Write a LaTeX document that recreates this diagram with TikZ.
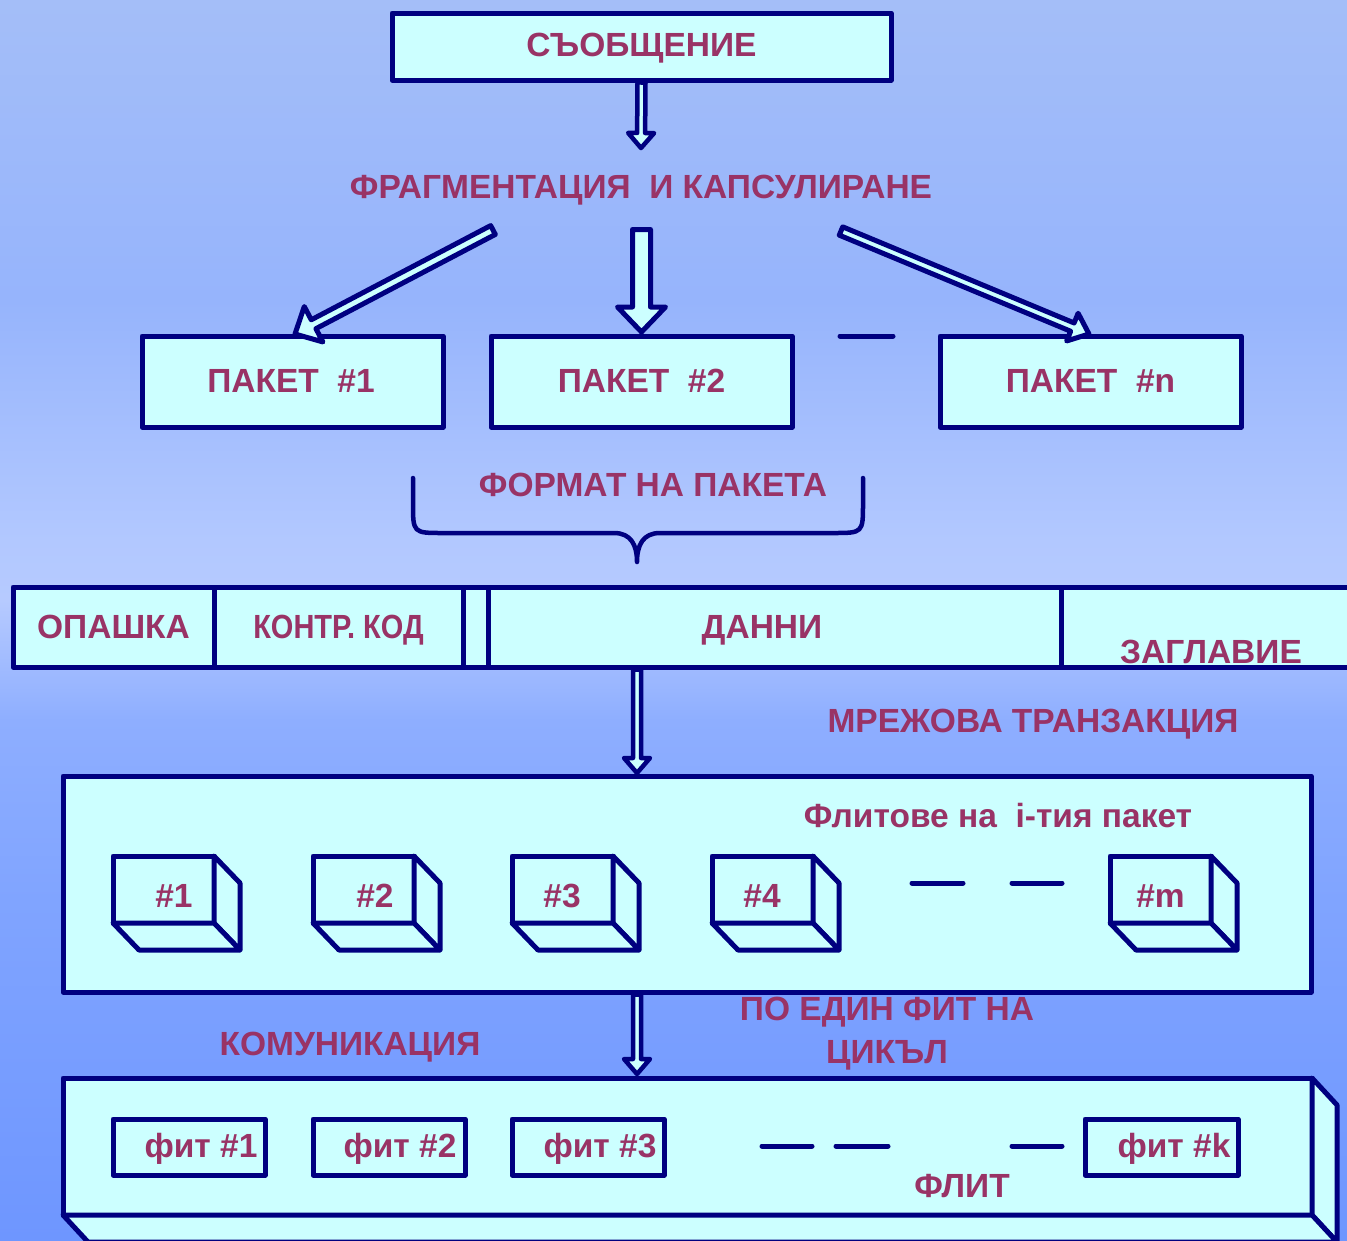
\documentclass[tikz,border=0pt]{standalone}
\usepackage{fontspec}
\usepackage{graphicx}
\setmainfont{Liberation Sans}
\usetikzlibrary{calc}
\definecolor{navyc}{HTML}{000080}
\definecolor{cyanc}{HTML}{CCFFFF}
\definecolor{txtc}{HTML}{993366}
\definecolor{skyA}{HTML}{A4BEF8}
\definecolor{skyB}{HTML}{96B4FC}
\definecolor{skyC}{HTML}{B2C8FF}
\definecolor{skyD}{HTML}{B6CAFF}
\definecolor{skyE}{HTML}{8EAEFF}
\definecolor{skyF}{HTML}{80A4FF}
\definecolor{skyG}{HTML}{6E96FF}
\newcommand\lblfont{\bfseries\fontsize{33.5}{40}\selectfont}
\newcommand\blkarrow[6]{%
  \coordinate (bkneck) at ($#2!#5!#1$);
  \draw[arrowbody,#6] ($#1!#3!90:#2$) -- ($(bkneck)!#3!90:#2$) -- ($(bkneck)!#4!90:#2$) -- #2
    -- ($(bkneck)!#4!-90:#2$) -- ($(bkneck)!#3!-90:#2$) -- ($#1!#3!-90:#2$) -- cycle;}
\begin{document}
\begin{tikzpicture}[x=1pt,y=-1pt,
  box/.style={draw=navyc,fill=cyanc,line width=5pt,line join=round,outer sep=0pt,inner sep=0pt},
  face/.style={draw=navyc,fill=cyanc,line width=5pt,line join=round},
  lbl/.style={text=txtc,font=\lblfont,inner sep=0pt,text height=24pt,text depth=0pt},
  arrowbody/.style={draw=navyc,fill=cyanc,line width=5pt,line join=round},
  dashln/.style={draw=navyc,line width=5pt,line cap=round},
  bracestyle/.style={draw=navyc,line width=4.5pt,line cap=round,line join=round}]
\useasboundingbox (0,0) rectangle (1347,1240);
\clip (0,0) rectangle (1347,1240);
% background sky
\shade[top color=skyA,bottom color=skyB] (0,-1) rectangle (1347,300.5);
\shade[top color=skyB,bottom color=skyC] (0,300) rectangle (1347,540.5);
\shade[top color=skyC,bottom color=skyD] (0,540) rectangle (1347,600.5);
\shade[top color=skyD,bottom color=skyE] (0,600) rectangle (1347,720.5);
\shade[top color=skyE,bottom color=skyF] (0,720) rectangle (1347,900.5);
\shade[top color=skyF,bottom color=skyG] (0,900) rectangle (1347,1241);

% message
\node[box,minimum width=499pt,minimum height=67pt] (msg) at (641.5,46.5) {};
\node[lbl] (msgt) at (641.5,44) {СЪОБЩЕНИЕ};
\coordinate (a1s) at ($(msg.south)+(0,2.5)$);
\coordinate (a1e) at (641,148);
\blkarrow{(a1s)}{(a1e)}{4pt}{13pt}{15pt}{line width=4.5pt}

\node[lbl] (frag) at (641,186) {ФРАГМЕНТАЦИЯ\ \ И КАПСУЛИРАНЕ};

% packets
\node[box,minimum width=301pt,minimum height=91pt] (p1) at (292.5,381.5) {};
\node[box,minimum width=301pt,minimum height=91pt] (p2) at (641.5,381.5) {};
\node[box,minimum width=301pt,minimum height=91pt] (pn) at (1090.5,381.5) {};
\node[lbl] at (291,380) {ПАКЕТ\ \ \#1};
\node[lbl] at (641.5,380) {ПАКЕТ\ \ \#2};
\node[lbl] at (1090.5,380) {ПАКЕТ\ \ \#n};
\draw[dashln] (840,336) -- (893,336);

\coordinate (a2s) at (493,230);
\coordinate (a2e) at (295,334);
\blkarrow{(a2s)}{(a2e)}{5pt}{20pt}{21pt}{}
\coordinate (a3s) at (641.5,229.5);
\coordinate (a3e) at ($(p2.north)+(0,-4)$);
\blkarrow{(a3s)}{(a3e)}{9pt}{24pt}{25pt}{}
\coordinate (a4s) at (841,231);
\coordinate (a4e) at (1089,334);
\blkarrow{(a4s)}{(a4e)}{4.5pt}{15pt}{18pt}{}

% packet format brace
\node[lbl] (fmt) at (653,484) {ФОРМАТ НА ПАКЕТА};
\draw[bracestyle] (413,478) -- (413,503) .. controls (413,533) .. (443,533) -- (614,533)
  .. controls (631,533) and (637,545) .. (637,562)
  .. controls (637,545) and (643,533) .. (660,533) -- (833,533)
  .. controls (863,533) .. (863,503) -- (863,478);

% packet bar
\node[box,minimum width=201pt,minimum height=80pt] (tailseg) at (113.5,627) {};
\node[box,minimum width=249pt,minimum height=80pt] (crcseg) at (338.5,627) {};
\node[box,minimum width=25pt,minimum height=80pt] (gapseg) at (475.5,627) {};
\node[box,minimum width=573pt,minimum height=80pt] (dataseg) at (774.5,627) {};
\node[box,minimum width=319pt,minimum height=80pt] (hdrseg) at (1220.5,627) {};
\node[lbl] at (113.5,626) {ОПАШКА};
\node[lbl] at (338.5,626) {\scalebox{0.865}[1]{КОНТР. КОД}};
\node[lbl] at (762,626) {ДАННИ};
\node[lbl] at (1211,651) {ЗАГЛАВИЕ};

\coordinate (a5s) at ($(dataseg.south west)+(149,2.5)$);
\coordinate (a5e) at (637,773);
\blkarrow{(a5s)}{(a5e)}{4pt}{13pt}{15pt}{line width=4.5pt}
\node[lbl] (net) at (1033,720) {МРЕЖОВА ТРАНЗАКЦИЯ};

% flits of i-th packet
\node[box,minimum width=1248pt,minimum height=216pt] (trans) at (687,884) {};
\node[lbl] (flits) at (998,815) {Флитове на\ \ i-тия пакет};
\foreach \nm/\cx/\tx/\lab in {c1/163.5/174/\#1, c2/363.5/375/\#2, c3/562.5/562/\#3, c4/762.5/762/\#4, cm/1160.5/1160.5/\#m}{
  \node[box,minimum width=101pt,minimum height=67pt] (\nm) at (\cx,889.5) {};
  \draw[face] (\nm.north east) -- ++(26,27) -- ++(0,67) -- (\nm.south east) -- cycle;
  \draw[face] (\nm.south west) -- (\nm.south east) -- ++(26,27) -- ++(-101,0) -- cycle;
  \node[lbl] at (\tx,895) {\lab};
}
\draw[dashln] (912,883) -- (963,883);
\draw[dashln] (1012,883) -- (1062,883);

\coordinate (a6s) at ($(trans.south west)+(574,2.5)$);
\coordinate (a6e) at (637,1074);
\blkarrow{(a6s)}{(a6e)}{4pt}{13pt}{15pt}{line width=4.5pt}
\node[lbl] (cyc) at (887,1008) {ПО ЕДИН ФИТ НА};
\node[lbl] (cyc2) at (887,1051) {ЦИКЪЛ};
\node[lbl] (comm) at (350,1043) {КОМУНИКАЦИЯ};

% flit 3D bar
\node[box,minimum width=1249pt,minimum height=137pt] (flit) at (687.5,1146.5) {};
\draw[face] (flit.north east) -- ++(25,27) -- ++(0,137) -- (flit.south east) -- cycle;
\draw[face] (flit.south west) -- (flit.south east) -- ++(25,27) -- ++(-1249,0) -- cycle;
\node[box,minimum width=152pt,minimum height=56pt] (f1) at (189,1147) {};
\node[box,minimum width=152pt,minimum height=56pt] (f2) at (389,1147) {};
\node[box,minimum width=152pt,minimum height=56pt] (f3) at (588,1147) {};
\node[box,minimum width=153pt,minimum height=56pt] (fk) at (1161.5,1147) {};
\node[lbl] at (201,1145) {фит \#1};
\node[lbl] at (400,1145) {фит \#2};
\node[lbl] at (600,1145) {фит \#3};
\node[lbl] at (1174,1145) {фит \#k};
\draw[dashln] (762,1146) -- (812,1146);
\draw[dashln] (836,1146) -- (888,1146);
\draw[dashln] (1012,1146) -- (1062,1146);
\node[lbl] (flitt) at (962,1185) {ФЛИТ};
\end{tikzpicture}
\end{document}
